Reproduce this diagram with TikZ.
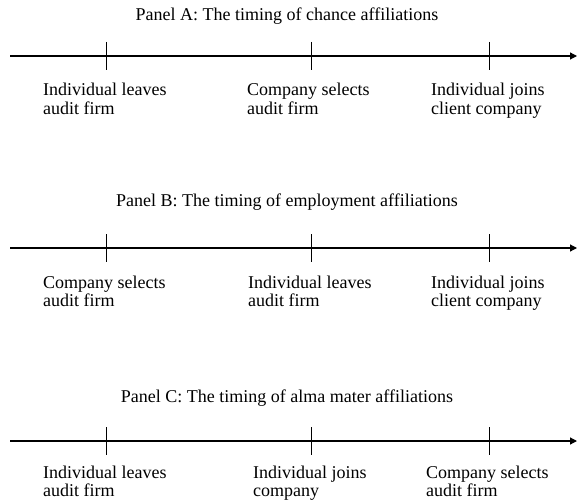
\documentclass[tikz,border=0pt]{standalone}
\usepackage{fontspec}
\setmainfont{Liberation Serif}
\usetikzlibrary{arrows.meta}
\begin{document}
\begin{tikzpicture}[x=1bp,y=-1bp,
  ptitle/.style={anchor=base,inner sep=0,font=\fontsize{18bp}{18.5bp}\selectfont},
  lbl/.style={anchor=north west,inner sep=0,align=left,font=\fontsize{18bp}{18.5bp}\selectfont},
  axis/.style={line width=1.2bp,-{Triangle[length=7bp,width=7bp]}},
  tickmark/.style={line width=1bp}]
\useasboundingbox[fill=white] (0,0) rectangle (577,503);
% Panel A
\node[ptitle] (tA) at (287,21) {Panel A: The timing of chance affiliations};
\coordinate (aS) at (10,56); \coordinate (aE) at (577,56);
\draw[axis] (aS) -- (aE);
\coordinate (a1t) at (106,42); \coordinate (a1b) at (106,70);
\coordinate (a2t) at (311,42); \coordinate (a2b) at (311,70);
\coordinate (a3t) at (489,42); \coordinate (a3b) at (489,70);
\draw[tickmark] (a1t) -- (a1b);
\draw[tickmark] (a2t) -- (a2b);
\draw[tickmark] (a3t) -- (a3b);
\node[lbl] (la1) at (43,83.2) {Individual leaves\\audit firm};
\node[lbl] (la2) at (247,83.2) {Company selects\\audit firm};
\node[lbl] (la3) at (431,83.2) {Individual joins\\client company};
% Panel B
\node[ptitle] (tB) at (287,206.5) {Panel B: The timing of employment affiliations};
\coordinate (bS) at (10,248); \coordinate (bE) at (577,248);
\draw[axis] (bS) -- (bE);
\coordinate (b1t) at (106,234); \coordinate (b1b) at (106,262);
\coordinate (b2t) at (311,234); \coordinate (b2b) at (311,262);
\coordinate (b3t) at (489,234); \coordinate (b3b) at (489,262);
\draw[tickmark] (b1t) -- (b1b);
\draw[tickmark] (b2t) -- (b2b);
\draw[tickmark] (b3t) -- (b3b);
\node[lbl] (lb1) at (43,275.7) {Company selects\\audit firm};
\node[lbl] (lb2) at (248,275.7) {Individual leaves\\audit firm};
\node[lbl] (lb3) at (431,275.7) {Individual joins\\client company};
% Panel C
\node[ptitle] (tC) at (287,402) {Panel C: The timing of alma mater affiliations};
\coordinate (cS) at (10,441); \coordinate (cE) at (577,441);
\draw[axis] (cS) -- (cE);
\coordinate (c1t) at (106,427); \coordinate (c1b) at (106,455);
\coordinate (c2t) at (311,427); \coordinate (c2b) at (311,455);
\coordinate (c3t) at (489,427); \coordinate (c3b) at (489,455);
\draw[tickmark] (c1t) -- (c1b);
\draw[tickmark] (c2t) -- (c2b);
\draw[tickmark] (c3t) -- (c3b);
\node[lbl] (lc1) at (43,465.7) {Individual leaves\\audit firm};
\node[lbl] (lc2) at (253,465.7) {Individual joins\\company};
\node[lbl] (lc3) at (426,465.7) {Company selects\\audit firm};
\end{tikzpicture}
\end{document}
